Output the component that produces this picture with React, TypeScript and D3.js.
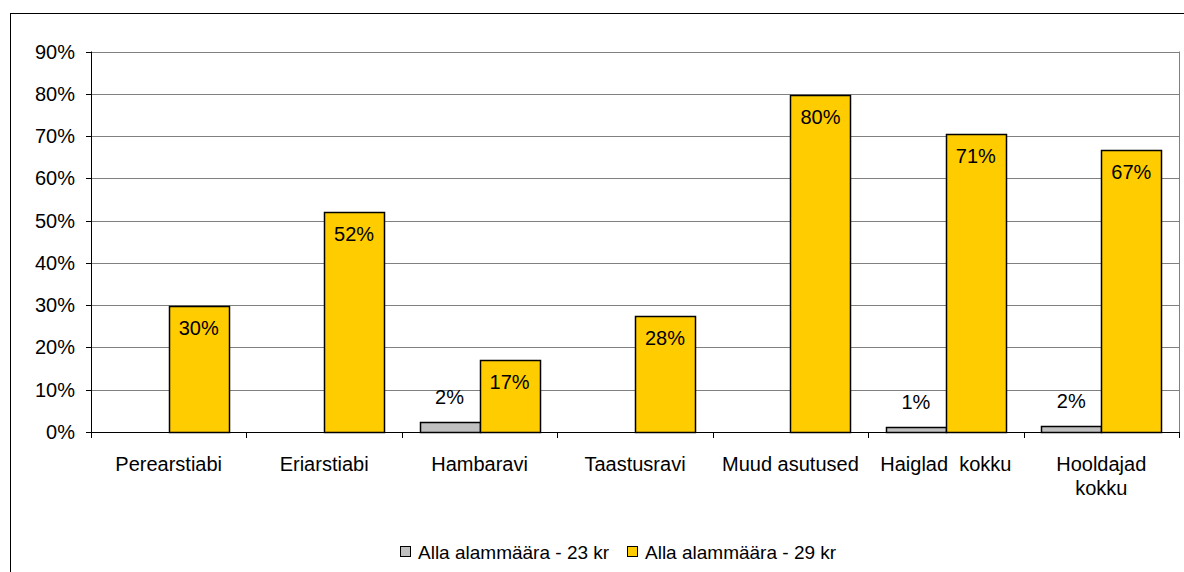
import React from "react";
import * as d3 from "d3";

const categories = [
  ["Perearstiabi"],
  ["Eriarstiabi"],
  ["Hambaravi"],
  ["Taastusravi"],
  ["Muud asutused"],
  ["Haiglad  kokku"],
  ["Hooldajad", "kokku"],
];
const series23: (number | null)[] = [null, null, 2.3, null, null, 1.3, 1.5];
const series29: (number | null)[] = [29.8, 52, 17, 27.5, 79.8, 70.6, 66.8];
const yTicks = [0, 10, 20, 30, 40, 50, 60, 70, 80, 90];
const seriesNames = ["Alla alammäära - 23 kr", "Alla alammäära - 29 kr"];
const colors = ["#C0C0C0", "#FFCC00"];

const W = 1184;
const H = 572;
const plot = { left: 91, right: 1179, top: 51.5, bottom: 432 };
const FONT = "'Liberation Sans', Arial, sans-serif";
const FS = 19;
const FSA = 20;

export default function App() {
  const x = d3
    .scaleBand<number>()
    .domain(categories.map((_, i) => i))
    .range([plot.left, plot.right])
    .paddingInner(0)
    .paddingOuter(0);
  const inner = d3
    .scaleBand<number>()
    .domain([0, 1])
    .range([0, x.bandwidth()])
    .paddingOuter(0.295)
    .paddingInner(0);
  const y = d3.scaleLinear().domain([0, 90]).range([plot.bottom, plot.top]);
  const all = [series23, series29];

  return (
    <svg
      width={W}
      height={H}
      style={{ position: "absolute", left: 0, top: 0, background: "#fff" }}
      fontFamily={FONT}
    >
      <rect x={10.5} y={13.5} width={1300} height={700} fill="#fff" stroke="#000" strokeWidth={1} />
      {yTicks.map((t) => (
        <line
          key={"g" + t}
          x1={plot.left}
          x2={plot.right}
          y1={Math.round(y(t)) + 0.5}
          y2={Math.round(y(t)) + 0.5}
          stroke="#808080"
          strokeWidth={1}
        />
      ))}
      <line x1={plot.right + 0.5} x2={plot.right + 0.5} y1={plot.top} y2={plot.bottom + 6} stroke="#808080" />
      {all.map((s, si) =>
        s.map((v, ci) => {
          if (v == null) return null;
          const bx = (x(ci) as number) + (inner(si) as number);
          const by = y(v);
          return (
            <rect
              key={`b${si}-${ci}`}
              x={Math.round(bx) + 0.5}
              y={Math.round(by) + 0.5}
              width={Math.round(inner.bandwidth())}
              height={Math.round(y(0)) - Math.round(by)}
              fill={colors[si]}
              stroke="#000"
              strokeWidth={1.5}
            />
          );
        })
      )}
      {all.map((s, si) =>
        s.map((v, ci) => {
          if (v == null) return null;
          const cx = (x(ci) as number) + (inner(si) as number) + inner.bandwidth() / 2;
          const ly = si === 0 ? y(v) - 18 : y(v) + 29;
          return (
            <text key={`l${si}-${ci}`} x={cx} y={ly} textAnchor="middle" fontSize={FSA} fill="#000">
              {Math.round(v)}%
            </text>
          );
        })
      )}
      <line x1={plot.left + 0.5} x2={plot.left + 0.5} y1={plot.top} y2={plot.bottom} stroke="#000" />
      <line x1={plot.left} x2={plot.right} y1={Math.round(plot.bottom) + 0.5} y2={Math.round(plot.bottom) + 0.5} stroke="#000" />
      {yTicks.map((t) => (
        <g key={"yt" + t}>
          <line x1={86} x2={plot.left} y1={Math.round(y(t)) + 0.5} y2={Math.round(y(t)) + 0.5} stroke="#000" />
          <text x={75} y={y(t) + 7} textAnchor="end" fontSize={FSA} fill="#000">
            {t}%
          </text>
        </g>
      ))}
      {categories.map((_, i) => (
        <line
          key={"xt" + i}
          x1={Math.round(x(i) as number) + 0.5}
          x2={Math.round(x(i) as number) + 0.5}
          y1={plot.bottom}
          y2={plot.bottom + 6}
          stroke="#000"
        />
      ))}
      <line x1={plot.right + 0.5} x2={plot.right + 0.5} y1={plot.bottom} y2={plot.bottom + 6} stroke="#000" />
      {categories.map((lines, i) => (
        <text
          key={"xl" + i}
          x={(x(i) as number) + x.bandwidth() / 2}
          y={471}
          textAnchor="middle"
          fontSize={FSA}
          fill="#000"
          style={{ whiteSpace: "pre" }}
        >
          {lines.map((l, j) => (
            <tspan key={j} x={(x(i) as number) + x.bandwidth() / 2} dy={j === 0 ? 0 : 24}>
              {l}
            </tspan>
          ))}
        </text>
      ))}
      <g>
        <rect x={400.5} y={546.5} width={10} height={10} fill={colors[0]} stroke="#000" />
        <text x={418} y={559} fontSize={FS} fill="#000">
          {seriesNames[0]}
        </text>
        <rect x={627.5} y={546.5} width={10} height={10} fill={colors[1]} stroke="#000" />
        <text x={645} y={559} fontSize={FS} fill="#000">
          {seriesNames[1]}
        </text>
      </g>
    </svg>
  );
}
